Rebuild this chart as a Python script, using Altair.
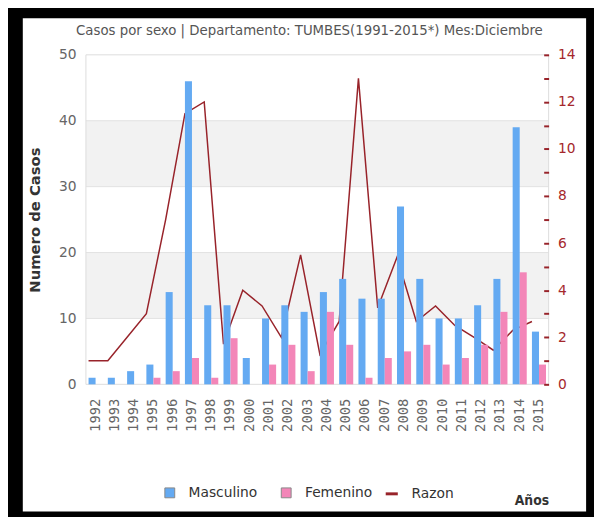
import altair as alt
import pandas as pd

years = ["1992", "1993", "1994", "1995", "1996", "1997", "1998", "1999", "2000",
         "2001", "2002", "2003", "2004", "2005", "2006", "2007", "2008", "2009",
         "2010", "2011", "2012", "2013", "2014", "2015"]
masculino = [1, 1, 2, 3, 14, 46, 12, 12, 4, 10, 12, 11, 14, 16, 13, 13, 27, 16, 10, 10, 12, 16, 39, 8]
femenino = [0, 0, 0, 1, 2, 4, 1, 7, 0, 3, 6, 2, 11, 6, 1, 4, 5, 6, 3, 4, 6, 11, 17, 3]
razon = [1, 1, 2, 3, 7, 11.5, 12, 1.71, 4, 3.33, 2, 5.5, 1.27, 2.67, 13, 3.25, 5.4, 2.67,
         3.33, 2.5, 2, 1.45, 2.29, 2.67]
sexos = ["Masculino", "Femenino"]
band_lo = [10, 30]
band_hi = [20, 40]
grid_vals = [10, 20, 30, 40]

BLUE = "#64aaf2"
PINK = "#f386b8"
RED = "#98232a"
PW, PH = 469, 334

bars_df = pd.DataFrame({
    "year": years * 2,
    "sexo": [sexos[0]] * len(years) + [sexos[1]] * len(years),
    "casos": masculino + femenino,
})
line_df = pd.DataFrame({"year": years, "serie": ["Razon"] * len(years), "razon": razon})
bands_df = pd.DataFrame({"lo": band_lo, "hi": band_hi})
grid_df = pd.DataFrame({"v": grid_vals})
one = pd.DataFrame({"a": [0]})

x_axis = alt.Axis(
    title="Años", titleFont="DejaVu Sans Condensed", titleFontWeight="bold",
    titleFontSize=14, titleColor="#333333", titleX=PW, titleY=118,
    titleAlign="right", titleBaseline="middle",
    labelAngle=270, labelFont="DejaVu Sans Mono", labelFontSize=14,
    labelColor="#666666", labelPadding=14, ticks=False, domain=False,
    grid=False, zindex=1,
)
x_scale = alt.Scale(domain=years, paddingInner=0.27, paddingOuter=0.135)
left_scale = alt.Scale(domain=[0, 50], nice=False)

frame = alt.Chart(one).mark_rect(color="white").encode(
    x=alt.value(-64), x2=alt.value(507), y=alt.value(-37), y2=alt.value(463)
)

bands = alt.Chart(bands_df).mark_rect(color="#f2f2f2").encode(
    y=alt.Y("lo:Q", scale=left_scale, axis=None), y2="hi:Q"
)

grid = alt.Chart(grid_df).mark_rule(color="#e2e2e2", strokeWidth=1).encode(
    y=alt.Y("v:Q", scale=left_scale, axis=None)
)

border = alt.Chart(one).mark_rect(fillOpacity=0, stroke="#dcdcdc", strokeWidth=1).encode(
    x=alt.value(0), x2=alt.value(PW), y=alt.value(0), y2=alt.value(PH)
)

line = alt.Chart(line_df).mark_line(strokeWidth=1.5).encode(
    x=alt.X("year:N", sort=years, scale=x_scale, bandPosition=0, axis=x_axis),
    y=alt.Y("razon:Q", scale=alt.Scale(domain=[0, 14], nice=False),
            axis=alt.Axis(orient="right", title=None, values=list(range(15)),
                          labelExpr="datum.value % 2 == 0 ? datum.label : ''",
                          offset=-5, tickSize=5, tickWidth=2, tickColor=RED,
                          labelColor="#a5282c", labelFont="DejaVu Sans", labelFontSize=14,
                          labelPadding=9, domain=False, grid=False, zindex=1)),
    stroke=alt.Stroke("serie:N", scale=alt.Scale(domain=["Razon"], range=[RED]),
                      legend=alt.Legend(title=None, orient="none", legendX=302, legendY=437,
                                        symbolType="stroke", symbolSize=150,
                                        symbolStrokeWidth=3, labelFont="DejaVu Sans",
                                        labelFontSize=14, labelColor="#333333",
                                        labelOffset=12, padding=0)),
)

bars = alt.Chart(bars_df).mark_bar().encode(
    x=alt.X("year:N", sort=years, scale=x_scale, axis=x_axis),
    xOffset=alt.XOffset("sexo:N", sort=sexos,
                        scale=alt.Scale(domain=sexos, paddingInner=0, paddingOuter=0)),
    y=alt.Y("casos:Q", scale=left_scale,
            axis=alt.Axis(orient="left", title="Numero de Casos", values=[0, 10, 20, 30, 40, 50],
                          titleFont="DejaVu Sans", titleFontWeight="bold", titleFontSize=15,
                          titleColor="#333333", titleX=-52, titleY=PH / 2,
                          titleAlign="center", titleBaseline="middle", titleAngle=270,
                          labelFont="DejaVu Sans", labelFontSize=14, labelColor="#666666",
                          labelPadding=10, ticks=False, domain=False, grid=False, zindex=1)),
    color=alt.Color("sexo:N", sort=sexos, scale=alt.Scale(domain=sexos, range=[BLUE, PINK]),
                    legend=alt.Legend(title=None, orient="none", legendX=78, legendY=437,
                                      direction="horizontal", symbolType="square",
                                      symbolSize=100, symbolStrokeColor="#888888",
                                      symbolStrokeWidth=1, labelFont="DejaVu Sans",
                                      labelFontSize=14, labelColor="#333333",
                                      labelOffset=12, columnPadding=22, padding=0)),
)

chart = alt.layer(frame, bands, grid, border, line, bars).resolve_scale(
    y="independent"
).properties(
    width=PW, height=PH, background="black",
    padding={"left": 15, "top": 7, "right": 8, "bottom": 2},
    title=alt.TitleParams(
        "Casos por sexo | Departamento: TUMBES(1991-2015*) Mes:Diciembre",
        font="DejaVu Sans Condensed", fontSize=15, fontWeight="normal",
        color="#555555", offset=-20, anchor="middle", frame="bounds", dx=5,
    ),
).configure_view(stroke="transparent")

chart.save("out.html", embed_options={"renderer": "svg", "actions": False})
